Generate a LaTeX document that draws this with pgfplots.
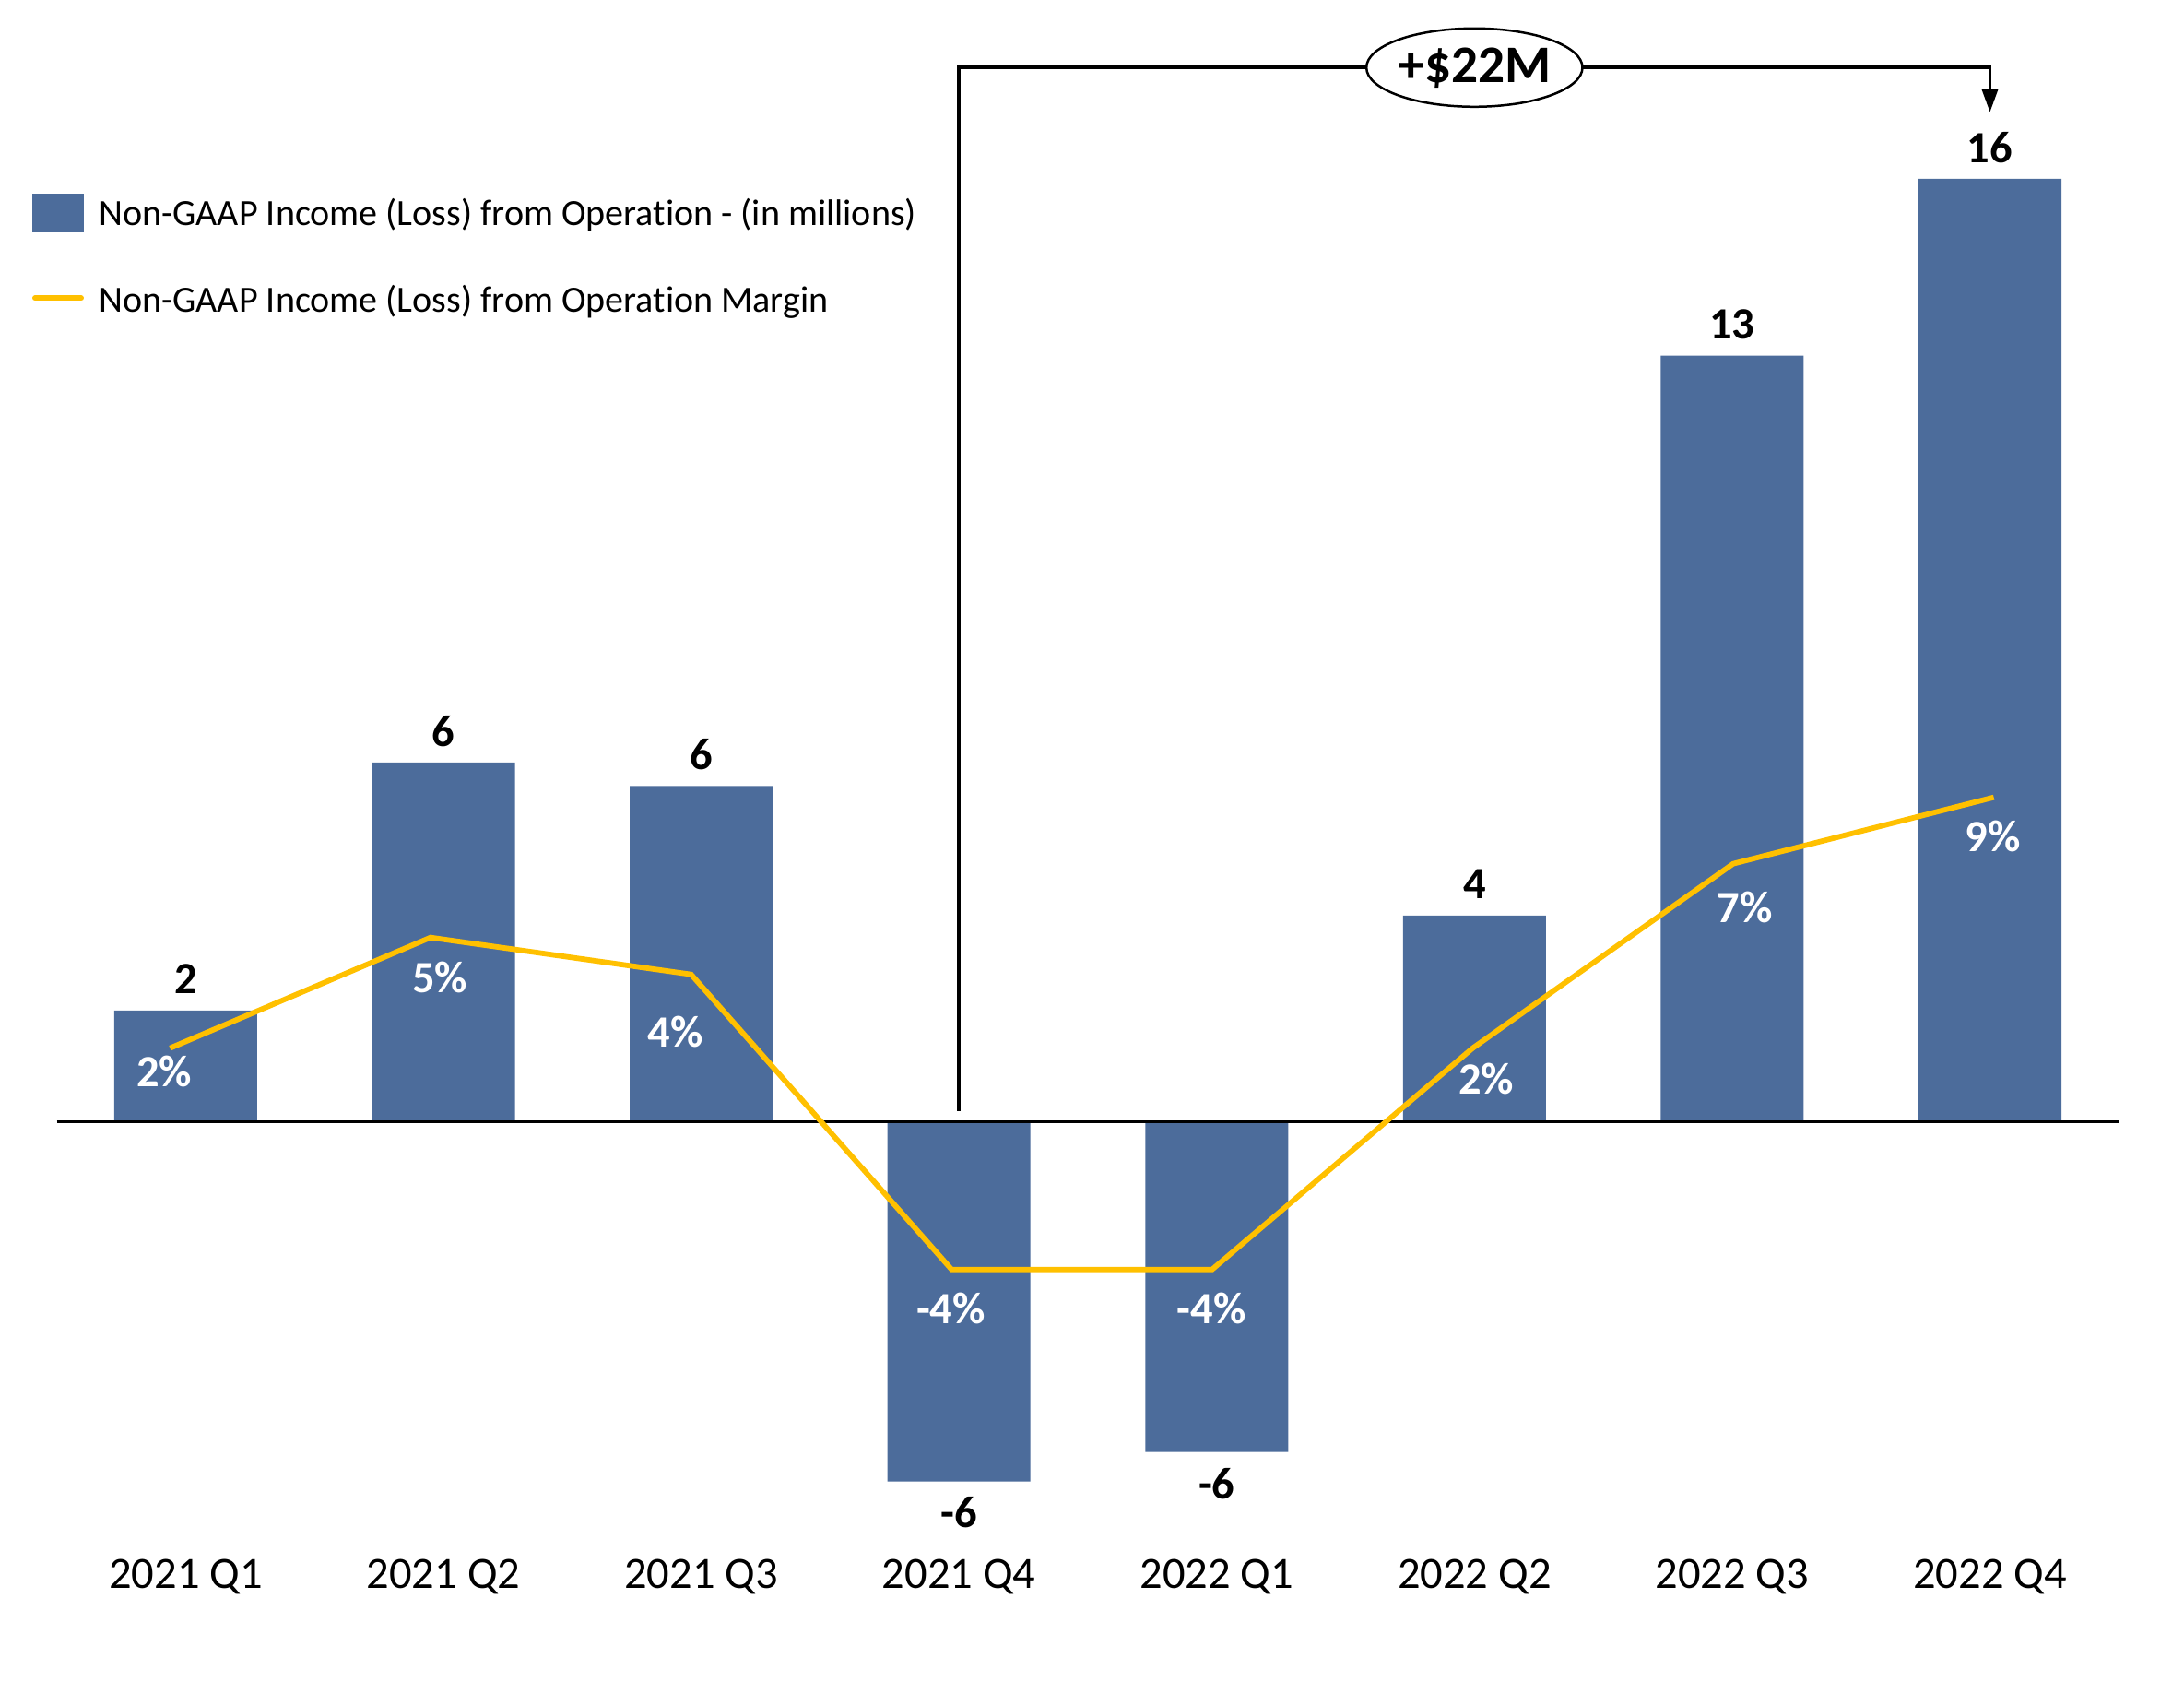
\documentclass[border=0pt]{standalone}
\usepackage{pgfplots}
\pgfplotsset{compat=1.18}
\usepackage{pgfplotstable}
\usepackage{fontspec}
\setmainfont{Carlito}[RawFeature={-liga}]
\usetikzlibrary{arrows.meta,shapes.geometric}
\definecolor{barblue}{RGB}{76,108,155}
\definecolor{lineyel}{RGB}{255,192,0}
\pgfplotstableread{
x y lab dy
0 1.89 2 0.34
1 6.10 6 0.34
2 5.70 6 0.34
3 -6.10 -6 -0.34
4 -5.60 -6 -0.34
5 3.50 4 0.34
6 13.00 13 0.34
7 16.00 16 0.34
}\bartable
\pgfplotstableread{
x m lab dx dy
0 2.0 2 -0.064 -0.25
1 5.0 5 0.10 -0.435
2 4.0 4 -0.17 -0.623
3 -4.0 -4 -0.007 -0.42
4 -4.0 -4 -0.008 -0.42
5 2.0 2 0.146 -0.333
6 7.0 7 0.126 -0.47
7 8.8 9 -0.01 -0.42
}\linetable
\begin{document}
\begin{tikzpicture}
\useasboundingbox (0,0) rectangle (23.69,18.36);
\begin{axis}[
  at={(0,0)}, anchor=south west,
  scale only axis, width=23.69cm, height=18.36cm,
  xmin=-0.7207, xmax=7.7530, ymin=-9.689, ymax=19.035,
  axis line style={draw=none},
  ytick=\empty,
  xtick={0,...,7},
  xticklabels={2021 Q1,2021 Q2,2021 Q3,2021 Q4,2022 Q1,2022 Q2,2022 Q3,2022 Q4},
  major tick length=0pt,
  xticklabel style={font=\fontsize{13.8}{16}\selectfont, anchor=base, yshift=1.133cm, inner sep=0pt},
  ybar, bar width=1.55cm,
  clip=false,
]
\addplot[fill=barblue, draw=none,
  point meta=explicit symbolic,
  visualization depends on={\thisrow{dy}\as\dy},
  nodes near coords={\pgfplotspointmeta},
  every node near coord/.append style={anchor=center, yshift=\dy cm, font=\fontsize{13.8}{16}\selectfont\bfseries, inner sep=0pt, text=black}
] table[x=x, y=y, meta=lab] {\bartable};
\draw[line width=0.035cm] (axis cs:-0.5,0) -- (axis cs:7.5,0);
\draw[line width=0.038cm, -{Triangle[length=0.25cm,width=0.17cm]}] (axis cs:3,0.183) |- (axis cs:7,17.888) -- (axis cs:7,17.13);
\node[draw, ellipse, fill=white, line width=0.025cm, minimum width=2.29cm, minimum height=0.85cm, inner sep=0pt, font=\fontsize{16.3}{19}\selectfont\bfseries] at (axis cs:5,17.888) {+\$22M};
\end{axis}
\begin{axis}[
  at={(0,0)}, anchor=south west,
  scale only axis, width=23.69cm, height=18.36cm,
  xmin=-0.6525, xmax=7.7304, ymin=-15.4825, ymax=30.4175,
  hide axis, clip=false,
]
\addplot[lineyel, line width=0.058cm, mark=none,
  point meta=explicit symbolic,
  visualization depends on={\thisrow{dx}\as\dx},
  visualization depends on={\thisrow{dy}\as\dy},
  nodes near coords={\pgfplotspointmeta\%},
  every node near coord/.append style={anchor=center, xshift=\dx cm, yshift=\dy cm, font=\fontsize{13.8}{16}\selectfont\bfseries, text=white, inner sep=0pt}
] table[x=x, y=m, meta=lab] {\linetable};
\end{axis}
\fill[barblue] (0.35,15.843) rectangle (0.91,16.26);
\node[anchor=base west, inner sep=0pt, font=\fontsize{11.4}{14}\selectfont] at (1.065,15.917) {Non-GAAP Income (Loss) from Operation - (in millions)};
\draw[lineyel, line width=0.06cm, line cap=round] (0.38,15.127) -- (0.88,15.127);
\node[anchor=base west, inner sep=0pt, font=\fontsize{11.4}{14}\selectfont] at (1.065,14.97) {Non-GAAP Income (Loss) from Operation Margin};
\end{tikzpicture}
\end{document}
